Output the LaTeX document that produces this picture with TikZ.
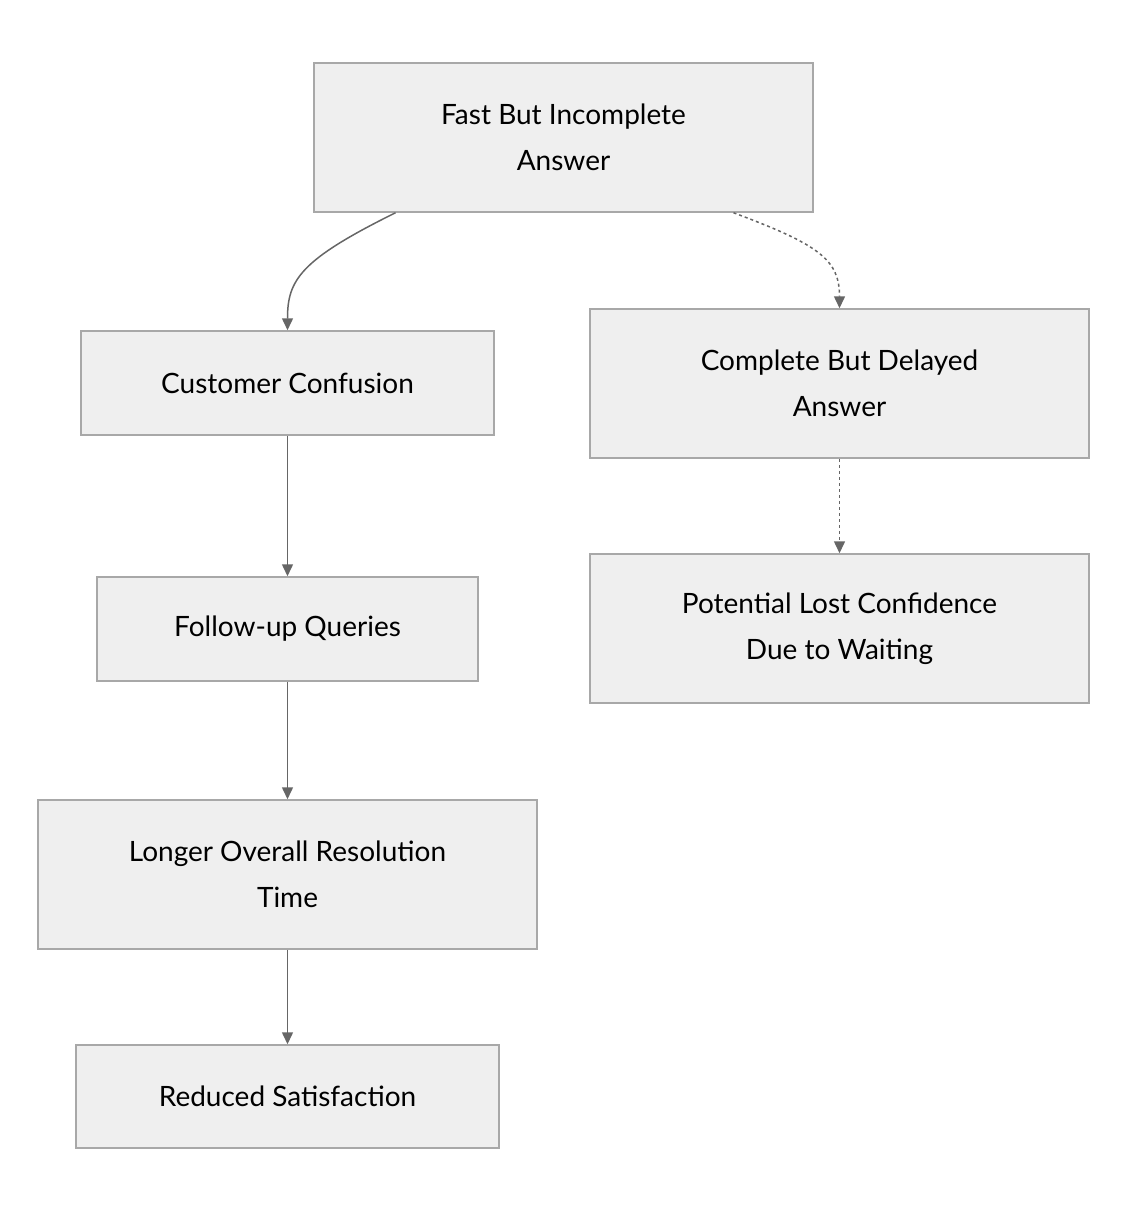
\documentclass[tikz,border=0pt]{standalone}
\usepackage{fontspec}
\setmainfont{Lato}
\usetikzlibrary{arrows.meta, positioning}
\definecolor{boxfill}{HTML}{EFEFEF}
\definecolor{boxline}{HTML}{A8A8A8}
\definecolor{linkcol}{HTML}{666666}
\tikzset{x=1pt, y=-1pt,
	box/.style={draw=boxline, fill=boxfill, line width=1.5pt, align=center,
		inner sep=0pt, font=\fontsize{28}{46}\selectfont}, % the grey boxes
	link/.style={-{Triangle[length=12pt,width=11pt]}, draw=linkcol, line width=1.5pt},
	maybe/.style={link, dash pattern=on 3pt off 3pt}, % the dotted branch
}
\begin{document}
\begin{tikzpicture}
	\useasboundingbox (0,0) rectangle (1128,1212);
	% left branch
	\node[box, minimum width=499pt, minimum height=149pt] (fast) at (563.5,137.5) {Fast But Incomplete\\Answer};
	\node[box, minimum width=413pt, minimum height=104pt] (confusion) at (287.5,383) {Customer Confusion};
	\node[box, minimum width=381pt, minimum height=104pt] (followup) at (287.5,629) {Follow-up Queries};
	\node[box, minimum width=499pt, minimum height=149pt] (longer) at (287.5,874.5) {Longer Overall Resolution\\Time};
	\node[box, minimum width=423pt, minimum height=103pt] (reduced) at (287.5,1096.5) {Reduced Satisfaction};
	% right branch
	\node[box, minimum width=499pt, minimum height=149pt] (delayed) at (839.5,383.5) {Complete But Delayed\\Answer};
	\node[box, minimum width=499pt, minimum height=149pt] (lost) at (839.5,628.5) {Potential Lost Confidence\\Due to Waiting};

	\draw[link] ([xshift=-168pt]fast.south) .. controls (300,260) and (287.5,280) .. (confusion.north);
	\draw[link] (confusion) -- (followup);
	\draw[link] (followup) -- (longer);
	\draw[link] (longer) -- (reduced);
	\draw[maybe] ([xshift=170pt]fast.south) .. controls (820,245) and (839.5,260) .. (delayed.north);
	\draw[maybe] (delayed) -- (lost);
\end{tikzpicture}
\end{document}
